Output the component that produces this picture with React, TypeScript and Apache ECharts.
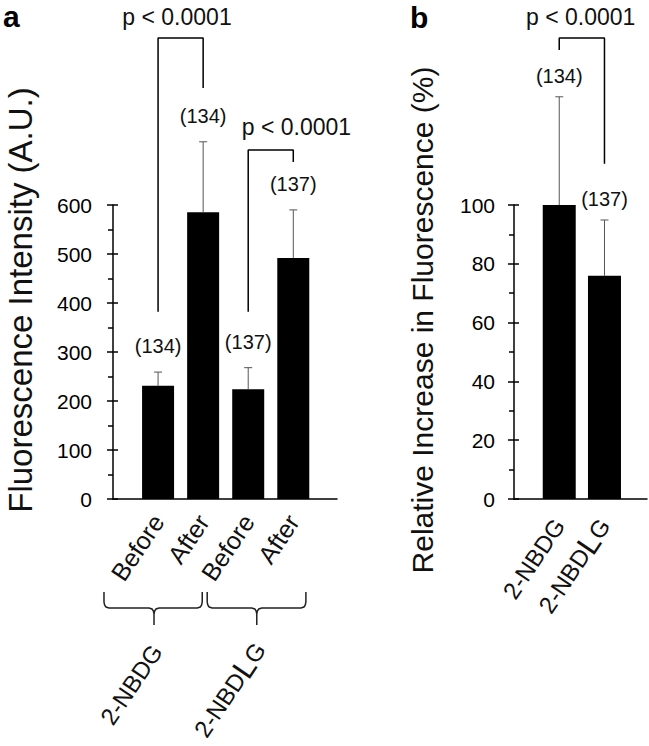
import React, { useEffect, useRef } from 'react';
import * as echarts from 'echarts';

// ---------- data ----------
const xLabelsA = ['Before', 'After', 'Before', 'After'];
const meansA = [231, 585, 224, 492];
const errTopsA = [259, 729, 268, 590];
const nA = ['(134)', '(134)', '(137)', '(137)'];
const groupLabelsA = ['{g|2-NBDG}', '{g|2-NBD}{L|L}{g|G}'];
const groupLabelPosA = [[0.97, -302], [3.26, -298]];
// brace spans under panel a: [left, middle, right] in x-axis units
const bracesA = [[-0.2, 0.91, 1.98], [2.09, 3.19, 4.28]];

const xLabelsB = ['{g|2-NBDG}', '{g|2-NBD}{L|L}{g|G}'];
const meansB = [100, 75.9];
const errTopsB = [136.8, 94.9];
const nB = ['(134)', '(137)'];

const pText = 'p < 0.0001';
const bracketA1 = [[1, 382], [1, 941], [2, 941], [2, 839]];
const bracketA2 = [[3, 382], [3, 712], [4, 712], [4, 688]];
const bracketB = [[1, 152.7], [1, 156.8], [2, 156.8], [2, 114]];
const pPosA = [[1.42, 984], [4.07, 759]];
const pPosB = [[1.475, 164]];

const FONT = '"Liberation Sans", Arial, Helvetica, sans-serif';
const ROT = 56;
const RICH = {
  n: { fontSize: 25, fontFamily: FONT, color: '#111' },
  g: { fontSize: 24, fontFamily: FONT, color: '#111' },
  L: { fontSize: 31, fontFamily: FONT, color: '#111' },
};
const RICH_FILL = {
  g: { fontSize: 24, fontFamily: FONT, fill: '#111' },
  L: { fontSize: 31, fontFamily: FONT, fill: '#111' },
};

function yAxes(gridIndex: number, max: number, interval: number, margin: number) {
  return [
    {
      type: 'value', gridIndex, min: 0, max, interval, position: 'left', offset: 0,
      axisLine: { show: true, onZero: false, lineStyle: { color: '#000', width: 1.5 } },
      axisTick: { show: true, inside: false, length: 6, lineStyle: { color: '#000', width: 1.5 } },
      minorTick: { show: true, splitNumber: 2, length: 5, lineStyle: { color: '#000', width: 1.5 } },
      splitLine: { show: false },
      axisLabel: { fontSize: 21, color: '#000', margin, fontFamily: FONT },
    },
    {
      type: 'value', gridIndex, min: 0, max, interval, position: 'left', offset: 0,
      axisLine: { show: false },
      axisTick: { show: true, inside: true, length: 5, lineStyle: { color: '#000', width: 1.5 } },
      minorTick: { show: false },
      splitLine: { show: false },
      axisLabel: { show: false },
    },
  ];
}

function errorSeries(xIdx: number, yIdx: number, means: number[], tops: number[], labels: string[], off: number) {
  return {
    type: 'custom', xAxisIndex: xIdx, yAxisIndex: yIdx, clip: false, z: 3, silent: true,
    encode: { x: 0, y: [1, 2] },
    data: means.map((m, i) => [i + 1, m, tops[i]]),
    renderItem: (params: any, api: any) => {
      const x = api.value(0);
      const b = api.coord([x, api.value(1)]);
      const t = api.coord([x, api.value(2)]);
      return {
        type: 'group',
        children: [
          { type: 'line', shape: { x1: b[0], y1: b[1], x2: t[0], y2: t[1] }, style: { stroke: '#555', lineWidth: 1 } },
          { type: 'line', shape: { x1: t[0] - 4, y1: t[1], x2: t[0] + 4, y2: t[1] }, style: { stroke: '#555', lineWidth: 1 } },
          {
            type: 'text', x: t[0], y: t[1] - off,
            style: { text: labels[params.dataIndex], fontSize: 20, fontFamily: FONT, fill: '#111', align: 'center', verticalAlign: 'middle' },
          },
        ],
      };
    },
  };
}

function textSeries(xIdx: number, yIdx: number, pos: number[][], texts: string[], fontSize: number, rotDeg: number, align: string) {
  return {
    type: 'custom', xAxisIndex: xIdx, yAxisIndex: yIdx, clip: false, silent: true,
    encode: { x: 0, y: 1 },
    data: pos,
    renderItem: (params: any, api: any) => {
      const p = api.coord([api.value(0), api.value(1)]);
      return {
        type: 'text', x: p[0], y: p[1], rotation: (rotDeg * Math.PI) / 180,
        style: {
          text: texts[params.dataIndex], fontSize, fontFamily: FONT, fill: '#111', align, verticalAlign: 'middle',
          rich: RICH_FILL,
        },
      };
    },
  };
}

function lineSeries(xIdx: number, yIdx: number, data: number[][], color = '#000') {
  return {
    type: 'line', xAxisIndex: xIdx, yAxisIndex: yIdx, clip: false, silent: true, symbol: 'none',
    lineStyle: { color, width: 1.5 }, data, z: 2,
  };
}

// curly braces drawn below the axis, anchored to the x-axis scale
function braceSeries(xIdx: number, yIdx: number, spans: number[][]) {
  return {
    type: 'custom', xAxisIndex: xIdx, yAxisIndex: yIdx, clip: false, silent: true,
    encode: { x: [0, 1, 2] },
    data: spans,
    renderItem: (params: any, api: any) => {
      const l = api.coord([api.value(0), 0]);
      const m = api.coord([api.value(1), 0]);
      const r = api.coord([api.value(2), 0]);
      const y0 = l[1];
      const top = y0 + 93, h = y0 + 109, tip = y0 + 126;
      const L = l[0], M = m[0], R = r[0];
      const pts = [
        [L, top], [L, h - 6], [L + 0.6, h - 3], [L + 2, h - 1], [L + 5, h],
        [M - 5, h], [M - 2, h + 1], [M - 0.6, h + 3], [M, h + 6], [M, tip],
        [M, h + 6], [M + 0.6, h + 3], [M + 2, h + 1], [M + 5, h],
        [R - 5, h], [R - 2, h - 1], [R - 0.6, h - 3], [R, h - 6], [R, top],
      ];
      return {
        type: 'polyline', shape: { points: pts },
        style: { stroke: '#222', lineWidth: 1.5, fill: null },
      };
    },
  };
}

export default function App() {
  const ref = useRef<HTMLDivElement>(null);
  useEffect(() => {
    document.body.style.margin = '0';
    const chart = echarts.init(ref.current!, null, { renderer: 'svg' });
    const xLabelStyle = { fontSize: 25, color: '#111', fontFamily: FONT, rich: RICH };
    chart.setOption({
      animation: false,
      backgroundColor: '#fff',
      grid: [
        { left: 113, top: 205, width: 224, height: 294 },
        { left: 514, top: 205, width: 133, height: 294 },
      ],
      xAxis: [
        {
          type: 'value', gridIndex: 0, min: 0, max: 4.97, interval: 1,
          axisLine: { show: true, onZero: false, lineStyle: { color: '#000', width: 1.5 } },
          axisTick: { show: false }, splitLine: { show: false },
          axisLabel: { ...xLabelStyle, rotate: ROT, margin: 18, showMinLabel: false, showMaxLabel: false,
            formatter: (v: number) => {
              const s = xLabelsA[Math.round(v) - 1];
              return s ? `{n|${s}}` : '';
            } },
        },
        {
          type: 'value', gridIndex: 1, min: 0, max: 2.94, interval: 1,
          axisLine: { show: true, onZero: false, lineStyle: { color: '#000', width: 1.5 } },
          axisTick: { show: false }, splitLine: { show: false },
          axisLabel: { ...xLabelStyle, rotate: ROT, margin: 22, showMinLabel: false, showMaxLabel: false,
            formatter: (v: number) => xLabelsB[Math.round(v) - 1] ?? '' },
        },
      ],
      yAxis: [...yAxes(0, 600, 100, 21), ...yAxes(1, 100, 20, 19)],
      series: [
        { type: 'bar', xAxisIndex: 0, yAxisIndex: 0, barWidth: 32, itemStyle: { color: '#000' }, silent: true,
          data: meansA.map((m, i) => [i + 1, m]) },
        { type: 'bar', xAxisIndex: 1, yAxisIndex: 2, barWidth: 33, itemStyle: { color: '#000' }, silent: true,
          data: meansB.map((m, i) => [i + 1, m]) },
        errorSeries(0, 0, meansA, errTopsA, nA, 26),
        errorSeries(1, 2, meansB, errTopsB, nB, 21),
        lineSeries(0, 0, bracketA1),
        lineSeries(0, 0, bracketA2),
        lineSeries(1, 2, bracketB),
        braceSeries(0, 0, bracesA),
        textSeries(0, 0, pPosA, [pText, pText], 23, 0, 'center'),
        textSeries(1, 2, pPosB, [pText], 23, 0, 'center'),
        textSeries(0, 0, groupLabelPosA, groupLabelsA, 24, ROT, 'right'),
      ],
      graphic: [
        { type: 'text', x: 20, y: 300, rotation: Math.PI / 2,
          style: { text: 'Fluorescence Intensity (A.U.)', fontSize: 33, fontFamily: FONT, fill: '#111', align: 'center', verticalAlign: 'middle' } },
        { type: 'text', x: 422, y: 320, rotation: Math.PI / 2,
          style: { text: 'Relative Increase in Fluorescence (%)', fontSize: 30, fontFamily: FONT, fill: '#111', align: 'center', verticalAlign: 'middle' } },
        { type: 'text', x: 3, y: 16,
          style: { text: 'a', fontSize: 30, fontWeight: 'bold', fontFamily: FONT, fill: '#000', align: 'left', verticalAlign: 'middle' } },
        { type: 'text', x: 410, y: 17,
          style: { text: 'b', fontSize: 30, fontWeight: 'bold', fontFamily: FONT, fill: '#000', align: 'left', verticalAlign: 'middle' } },
      ],
    });
    return () => chart.dispose();
  }, []);
  return <div ref={ref} style={{ width: 649, height: 746 }} />;
}
